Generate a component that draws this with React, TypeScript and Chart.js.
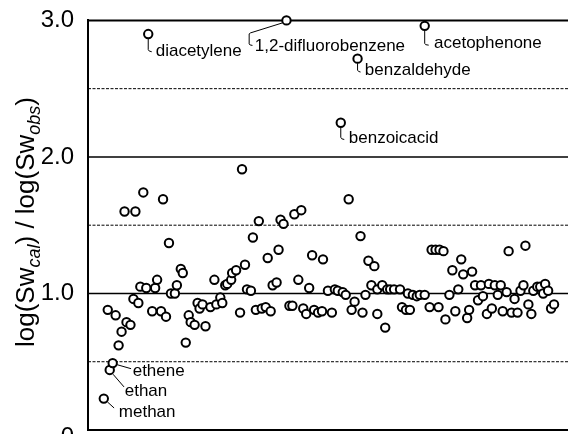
import React, { useEffect, useRef } from "react";
import { Chart, registerables } from "chart.js";

Chart.register(...registerables);

// compound index (arbitrary ordering along x) and log(Sw_cal)/log(Sw_obs)
const compoundX = [
  10, 14, 15.5, 17, 18.5, 19.5, 21.5, 23, 24, 25.5,
  26.5, 28, 29.5, 32.5, 34, 35, 37, 38, 39.5, 41,
  42, 44, 45, 47, 48, 49.5, 51, 52, 54, 55.5,
  56.5, 58, 59.5, 62, 64, 65, 67, 68, 69.5, 70.5,
  72.5, 73, 75, 77, 78, 79.5, 80.5, 82.5, 83.5, 85,
  86.5, 88, 90, 91, 92.5, 93.5, 95.5, 96.5, 97.5, 99,
  102, 103.5, 104.5, 106.5, 108, 109, 110.5, 112, 113.5, 114.5,
  116.5, 118.5, 119, 121.5, 123.5, 125, 126.5, 129, 130.5, 132,
  133.5, 135, 138, 139, 140.5, 142, 143.5, 145, 146.5, 146.5,
  149, 150.5, 151.5, 153, 155, 158, 159, 161, 162, 163,
  164.5, 166.5, 168, 170.5, 173, 174, 176, 177.5, 178, 180,
  181, 183, 184.5, 186, 187.5, 189, 190, 192, 193, 194.5,
  196, 197.5, 199, 200, 202, 203, 204.5, 206, 207.5, 209,
  210, 212, 213, 214.5, 216, 217.5, 219, 220.5, 221.5, 223,
  224.5, 225.5, 227.5, 229, 230.5, 231.5, 233, 234.5, 236,
];
const ratio = [
  0.88, 0.84, 0.62, 0.72, 1.6, 0.79, 0.77, 0.96, 1.6, 0.93,
  1.05, 1.74, 1.04, 0.87, 1.04, 1.1, 0.87, 1.69, 0.83, 1.37,
  1.0, 1.0, 1.06, 1.18, 1.15, 0.64, 0.84, 0.79, 0.77, 0.93,
  0.89, 0.92, 0.76, 0.9, 1.1, 0.92, 0.97, 0.93, 1.06, 1.07,
  1.1, 1.15, 1.17, 0.86, 1.91, 1.21, 1.03, 1.02, 1.41, 0.88,
  1.53, 0.89, 0.9, 1.26, 0.87, 1.06, 1.08, 1.32, 1.54, 1.51,
  0.91, 0.91, 1.58, 1.1, 1.61, 0.89, 0.85, 1.04, 1.28, 0.88,
  0.86, 0.87, 1.25, 1.02, 0.86, 1.03, 1.02, 1.01, 0.99, 1.69,
  0.88, 0.94, 1.42, 0.86, 0.99, 1.24, 1.06, 1.2, 1.03, 0.85,
  1.06, 0.75, 1.03, 1.03, 1.03, 1.03, 0.9, 0.88, 1.0, 0.88,
  0.99, 0.98, 0.99, 0.99, 0.9, 1.32, 1.32, 0.9, 1.32, 1.31,
  0.81, 0.99, 1.17, 0.87, 1.03, 1.25, 1.14, 0.82, 0.88, 1.16,
  1.06, 0.95, 1.06, 0.98, 0.85, 1.07, 0.89, 1.06, 0.99, 1.06,
  0.87, 1.01, 1.31, 0.86, 0.96, 0.86, 1.02, 1.06, 1.35, 0.92,
  0.85, 1.02, 1.05, 1.05, 1.0, 1.07, 1.02, 0.89, 0.92,
];

// labelled compounds
const namedCompounds = ["methan", "ethan", "ethene", "diacetylene", "1,2-difluorobenzene", "benzoicacid", "benzaldehyde", "acetophenone"];
const namedX = [8, 11, 12.5, 30.5, 100.5, 128, 136.5, 170.5];
const namedRatio = [0.23, 0.44, 0.49, 2.9, 3.0, 2.25, 2.72, 2.96];

const yTickValues = [0, 1, 2, 3];
const solidGrid = [1, 2, 3];
const dashedGrid = [0.5, 1.5, 2.5];

const FONT = "'Liberation Sans', Arial, Helvetica, sans-serif";

// leader/label layout, offsets in px relative to the point centre
const labelLayout: Record<string, { tx: number; ty: number; path: number[][] }> = {
  methan: { tx: 15, ty: 18.3, path: [[3.7, 3.4], [10.3, 9.4]] },
  ethan: { tx: 15, ty: 26, path: [[3.3, 4.3], [14.3, 17]] },
  ethene: { tx: 20, ty: 13.3, path: [[4.4, 1.6], [18.4, 5.6]] },
  diacetylene: { tx: 7.5, ty: 21.7, path: [[0, 4.5], [0, 15.5], [1, 17], [3.5, 17.7]] },
  "1,2-difluorobenzene": { tx: -31.7, ty: 30.7, path: [[-4, 2.5], [-36, 12.5], [-37.3, 13.5], [-37.3, 23.5], [-36.3, 24.6], [-34, 25]] },
  benzoicacid: { tx: 8, ty: 20, path: [[0, 4.5], [0, 14.5], [1, 16], [3.5, 16.7]] },
  benzaldehyde: { tx: 7.3, ty: 16.7, path: [[0, 4.5], [0, 11.5], [1, 12.8], [3, 13.4]] },
  acetophenone: { tx: 9.3, ty: 21.7, path: [[0, 4.5], [0, 17.5], [1, 18.8], [4, 19.3]] },
};

const decor = {
  id: "decor",
  beforeDatasetsDraw(chart: any) {
    const { ctx, chartArea: a, scales } = chart;
    const y = scales.y;
    ctx.save();
    ctx.strokeStyle = "#000";
    const hline = (v: number, lw: number, dash: number[]) => {
      const py = y.getPixelForValue(v);
      ctx.lineWidth = lw;
      ctx.setLineDash(dash);
      ctx.beginPath();
      ctx.moveTo(a.left, py);
      ctx.lineTo(a.right, py);
      ctx.stroke();
    };
    dashedGrid.forEach((v) => hline(v, 1, [3, 1.5]));
    solidGrid.forEach((v) => hline(v, v === 3 ? 2 : 1.5, []));
    hline(0, 2, []);
    ctx.restore();
  },
  afterDatasetsDraw(chart: any) {
    const { ctx } = chart;
    const meta = chart.getDatasetMeta(1);
    ctx.save();
    ctx.strokeStyle = "#000";
    ctx.fillStyle = "#000";
    ctx.lineWidth = 1;
    ctx.setLineDash([]);
    ctx.font = `17px ${FONT}`;
    ctx.textAlign = "left";
    ctx.textBaseline = "alphabetic";
    namedCompounds.forEach((name, i) => {
      const el = meta.data[i];
      const lay = labelLayout[name];
      if (!el || !lay) return;
      const cx = el.x, cy = el.y;
      ctx.beginPath();
      lay.path.forEach(([dx, dy], k) => {
        if (k === 0) ctx.moveTo(cx + dx, cy + dy);
        else ctx.lineTo(cx + dx, cy + dy);
      });
      ctx.stroke();
      ctx.fillText(name, cx + lay.tx, cy + lay.ty);
    });
    ctx.restore();
  },
  afterDraw(chart: any) {
    const { ctx } = chart;
    const parts = [
      { t: "log(Sw", sub: false },
      { t: "cal", sub: true },
      { t: ") / log(Sw", sub: false },
      { t: "obs", sub: true },
      { t: ")", sub: false },
    ];
    const mainFont = `26px ${FONT}`;
    const subFont = `italic 18px ${FONT}`;
    ctx.save();
    let total = 0;
    parts.forEach((p) => {
      ctx.font = p.sub ? subFont : mainFont;
      total += ctx.measureText(p.t).width;
    });
    ctx.translate(34, 222);
    ctx.rotate(-Math.PI / 2);
    ctx.fillStyle = "#000";
    ctx.textBaseline = "alphabetic";
    ctx.textAlign = "left";
    let x = -total / 2;
    parts.forEach((p) => {
      ctx.font = p.sub ? subFont : mainFont;
      ctx.fillText(p.t, x, p.sub ? 6 : 0);
      x += ctx.measureText(p.t).width;
    });
    ctx.restore();
  },
};

export default function App() {
  const ref = useRef<HTMLCanvasElement>(null);
  useEffect(() => {
    if (!ref.current) return;
    const pointStyle = {
      pointRadius: 4.2,
      pointBorderWidth: 2,
      pointBackgroundColor: "#fff",
      pointBorderColor: "#000",
      showLine: false,
      clip: false as any,
    };
    const chart = new Chart(ref.current, {
      type: "scatter",
      data: {
        datasets: [
          { data: compoundX.map((x, i) => ({ x, y: ratio[i] })), ...pointStyle },
          { data: namedX.map((x, i) => ({ x, y: namedRatio[i] })), ...pointStyle },
        ],
      },
      options: {
        animation: false,
        responsive: false,
        layout: { padding: { left: 0, top: 20, right: 0, bottom: 30 } },
        plugins: { legend: { display: false }, tooltip: { enabled: false }, title: { display: false } },
        scales: {
          x: { type: "linear", display: false, min: 0, max: 246 },
          y: {
            type: "linear",
            min: 0,
            max: 3,
            grid: { display: false },
            border: { display: true, color: "#000", width: 2 },
            afterBuildTicks: (s: any) => {
              s.ticks = yTickValues.map((v) => ({ value: v }));
            },
            afterFit: (s: any) => {
              s.width = 88;
            },
            ticks: {
              autoSkip: false,
              padding: 6,
              color: "#000",
              font: (c: any) =>
                c.tick && c.tick.value === 0
                  ? { family: FONT, size: 24, lineHeight: 0.6 }
                  : { family: FONT, size: 24 },
              callback: (v: any) => (Number(v) === 0 ? ["", "0"] : Number(v).toFixed(1)),
            },
          },
        },
      },
      plugins: [decor],
    });
    return () => chart.destroy();
  }, []);
  return (
    <div style={{ position: "absolute", left: 0, top: 0, width: 568, height: 434, overflow: "hidden", background: "#fff" }}>
      <canvas ref={ref} width={580} height={460} style={{ width: 580, height: 460, display: "block" }} />
    </div>
  );
}
